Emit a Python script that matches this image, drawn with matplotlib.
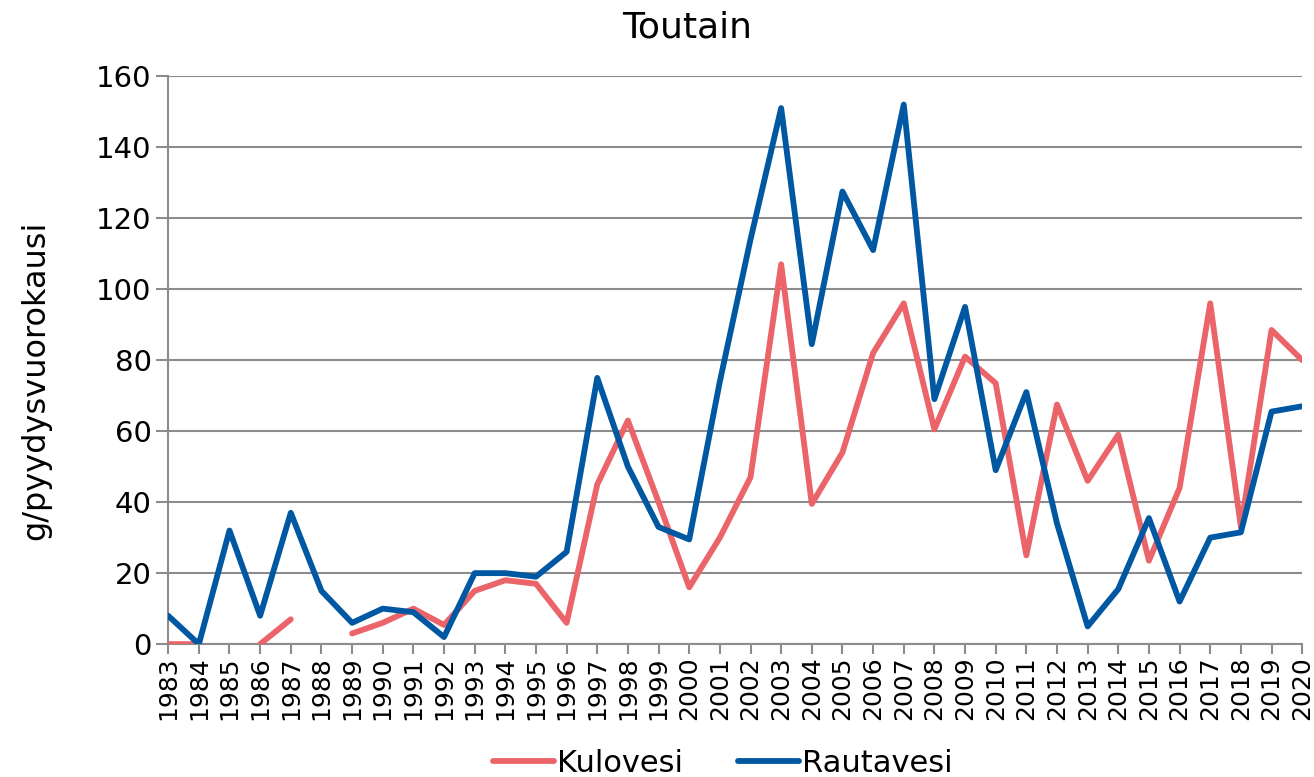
import numpy as np
import matplotlib.pyplot as plt

plt.rcParams['font.family'] = ['DejaVu Sans']

years = [str(y) for y in range(1983, 2021)]
kulovesi = [0, 0, np.nan, 0, 7, np.nan, 3, 6, 10, 5.4, 15, 18, 17, 6, 45, 63, 40, 16,
            30, 47, 107, 39.5, 54, 82, 96, 60.5, 81, 73.5, 25, 67.5, 46, 59, 23.5, 44,
            96, 33, 88.5, 80]
rautavesi = [8, 0, 32, 8, 37, 15, 6, 10, 9, 2, 20, 20, 19, 26, 75, 50, 33, 29.5,
             74, 114, 151, 84.5, 127.5, 111, 152, 69, 95, 49, 71, 34, 5, 15.5, 35.5, 12,
             30, 31.5, 65.5, 67]

x = np.arange(len(years))

fig = plt.figure(figsize=(13.14, 7.77), dpi=100)
ax = fig.add_axes([0.128, 0.171, 0.863, 0.731])

grid_c = '#8c8c8c'
ax.plot(x, kulovesi, color='#EB6469', lw=4.2, label='Kulovesi', solid_capstyle='round', zorder=3)
ax.plot(x, rautavesi, color='#0057A2', lw=4.2, label='Rautavesi', solid_capstyle='round', zorder=4)

ax.set_xlim(0, len(years) - 1)
ax.set_ylim(0, 160)
ax.set_yticks(range(0, 161, 20))
ax.set_xticks(x)
ax.set_xticklabels(years, rotation=90, fontsize=18)
ax.tick_params(axis='y', labelsize=21, length=9, color=grid_c, width=1.5, pad=3)
ax.tick_params(axis='x', length=7, color=grid_c, width=1.5, direction='out', pad=2)
ax.yaxis.grid(True, color=grid_c, lw=1.5)
ax.set_axisbelow(True)
for s in ['top', 'right']:
    ax.spines[s].set_visible(False)
ax.spines['left'].set_color(grid_c)
ax.spines['left'].set_linewidth(1.5)
ax.spines['bottom'].set_color(grid_c)
ax.spines['bottom'].set_linewidth(1.5)

ax.set_ylabel('g/pyydysvuorokausi', fontsize=23)
ax.yaxis.set_label_coords(-0.103, 0.465)
fig.text(0.523, 0.964, 'Toutain', fontsize=26, ha='center', va='center')

fig.legend(loc='center', bbox_to_anchor=(0.55, 0.018), ncol=2, frameon=False,
           fontsize=22, handlelength=2.0, handletextpad=0.1, columnspacing=1.8)

fig.savefig('out.png', dpi=100)
